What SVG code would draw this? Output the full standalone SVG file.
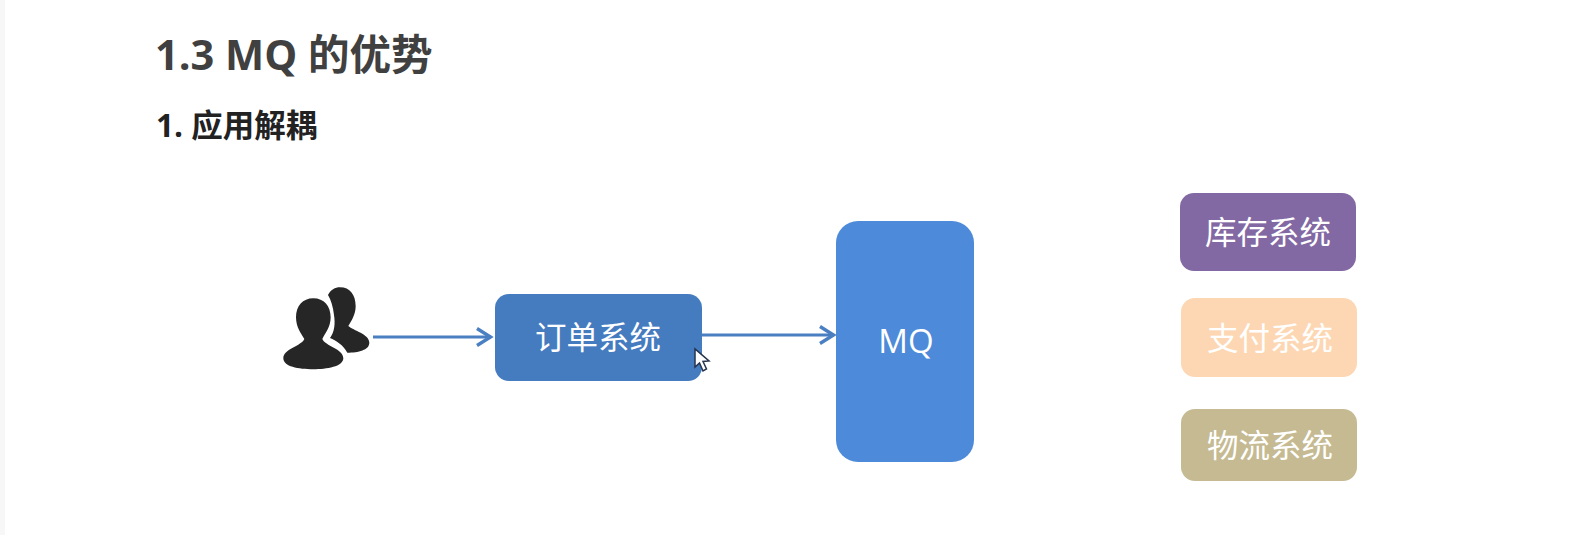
<svg xmlns="http://www.w3.org/2000/svg" width="1589" height="535" viewBox="0 0 1589 535">
<style>
text{font-family:"Open Sans","Noto Sans CJK SC",sans-serif}
.h{font-family:"Open Sans","Noto Sans CJK SC",sans-serif;font-weight:700}
.l{fill:#fff;font-size:31.500px;text-anchor:middle;font-family:"Noto Sans CJK SC",sans-serif}
.c{fill:none;stroke:#4a7fc1;stroke-width:3.2}
.i{fill:#262626}
</style>
<defs><marker id="a" markerUnits="userSpaceOnUse" markerWidth="24" markerHeight="24" refX="19" refY="12" orient="auto"><path d="M5 3.5L18.5 12L5 20.5" fill="none" stroke="#4a7fc1" stroke-width="3.4"/></marker></defs>
<rect width="1589" height="535" fill="#fff"/>
<rect x="0" y="0" width="5" height="535" fill="#f7f7f7"/>
<text class="h" x="155" y="70" font-size="41.500" fill="#404040">1.3 MQ 的优势</text>
<text class="h" x="156" y="137" font-size="31.500" fill="#222">1. 应用解耦</text>
<g id="users" transform="translate(260 270) scale(.3333)">
<path class="i" d="M240 52C270 52 287 75 287 108C287 132 276 150 265 168C280 182 328 192 328 218C328 240 295 248 262 248C250 225 228 212 210 204C224 185 226 160 222 135C219 110 213 90 204 75C212 60 225 52 240 52Z"/>
<path class="i" d="M160 85C192 85 212 108 212 142C212 172 194 192 187 207C195 228 250 236 250 265C250 290 200 298 160 298C115 298 70 290 70 265C70 236 125 228 133 207C124 192 108 172 108 142C108 108 128 85 160 85Z"/>
</g>
<g id="order"><rect x="495" y="294" width="207" height="87" rx="14" fill="#457bbf"/><text class="l" x="598" y="349">订单系统</text></g>
<g id="mq"><rect x="836" y="221" width="138" height="241" rx="22" fill="#4d8ad9"/><text x="906" y="353" fill="#fff" font-size="33" text-anchor="middle">MQ</text></g>
<g id="stock"><rect x="1180" y="193" width="176" height="78" rx="14" fill="#8269a3"/><text class="l" x="1268" y="244">库存系统</text></g>
<g id="pay"><rect x="1181" y="298" width="176" height="79" rx="14" fill="#fdd7b3"/><text class="l" x="1270" y="350">支付系统</text></g>
<g id="logistics"><rect x="1181" y="409" width="176" height="72" rx="14" fill="#c5ba92"/><text class="l" x="1270" y="457">物流系统</text></g>
<g id="connectors">
<path class="c" marker-end="url(#a)" d="M373 337H491"/>
<path class="c" marker-end="url(#a)" d="M702 335H834"/>
</g>
<g id="cursor"><path d="M695 349V367L699.500 363L703 371L706.500 369L703 361.500L709 361Z" fill="#fff" stroke="#26344d" stroke-width="1.5"/></g>
</svg>
